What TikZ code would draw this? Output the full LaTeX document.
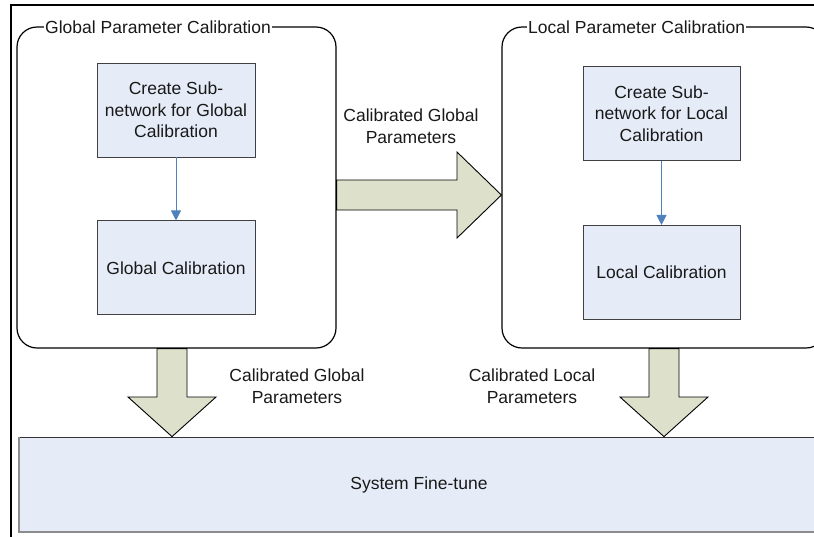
\documentclass[tikz,border=0pt]{standalone}
\usepackage{fontspec}
\setmainfont{Liberation Sans}
\usepackage{xcolor}
\usetikzlibrary{positioning,arrows.meta}

\definecolor{boxfill}{HTML}{E6ECF7}
\definecolor{fatfill}{HTML}{DDE1CB}
\definecolor{flowblue}{HTML}{4F81BD}

\begin{document}
\begin{tikzpicture}[x=1pt,y=-1pt,
  every node/.style={font=\fontsize{17.5}{21.5}\selectfont, text=black!90},
  groupbox/.style={draw, line width=1.2pt, rounded corners=20pt},
  grouptitle/.style={fill=white, inner xsep=1pt, inner ysep=2pt},
  stepbox/.style={draw=black!75, line width=0.9pt, fill=boxfill, align=center,
    minimum width=158pt, minimum height=94pt},
  flow/.style={draw=flowblue, line width=1pt, -{Triangle[width=10pt,length=10pt]}},
  fatarrow/.style={draw, line width=0.9pt, fill=fatfill},
  lbl/.style={align=center}]
\useasboundingbox (0,0) rectangle (814,536);
\clip (0,0) rectangle (814,536);

% frame
\draw[line width=2pt] (11,540) -- (11,5) -- (818,5);

% the two calibration groups
\node[groupbox, minimum width=319pt, minimum height=321pt] (gglob) at (176.5,187.5) {};
\node[groupbox, minimum width=324pt, minimum height=321pt] (gloc) at (664,187.5) {};
\node[grouptitle, anchor=west] at (44,27) {Global Parameter Calibration};
\node[grouptitle, anchor=west] at (527,27) {Local Parameter Calibration};

% steps
\node[stepbox] (cg) at (176,110) {Create Sub-\\network for Global\\Calibration};
\node[stepbox, below=63pt of cg] (gc) {Global Calibration};
\node[stepbox, minimum width=157pt] (cl) at (661.5,113.5) {Create Sub-\\network for Local\\Calibration};
\node[stepbox, minimum width=157pt, below=64pt of cl] (lc) {Local Calibration};
\draw[flow] (cg) -- (gc);
\draw[flow] (cl) -- (lc);

% fine-tune
\node[draw=black!80, line width=0.8pt, fill=boxfill, minimum width=800pt, minimum height=95pt] (fine) at (419,484.5) {System Fine-tune};
\draw[black!45, line width=2pt] (fine.north west) -- (fine.south west) -- (fine.south east);

% block arrows
\draw[fatarrow] (gglob.east |- 0,180) -- (457,180) -- (457,152) -- (gloc.west |- 0,195)
  -- (457,238) -- (457,210) -- (gglob.east |- 0,210) -- cycle;
\foreach \x/\src in {172/gglob,664/gloc}{
  \draw[fatarrow] (\src.south -| \x-15,0) -- (\x-15,397) -- (\x-44,397) -- (fine.north -| \x,0)
    -- (\x+44,397) -- (\x+15,397) -- (\src.south -| \x+15,0) -- cycle;
}

\node[lbl] (lblr) at (411,126) {Calibrated Global\\Parameters};
\node[lbl] (lblg) at (297,386) {Calibrated Global\\Parameters};
\node[lbl] (lbll) at (532,386) {Calibrated Local\\Parameters};
\end{tikzpicture}
\end{document}
